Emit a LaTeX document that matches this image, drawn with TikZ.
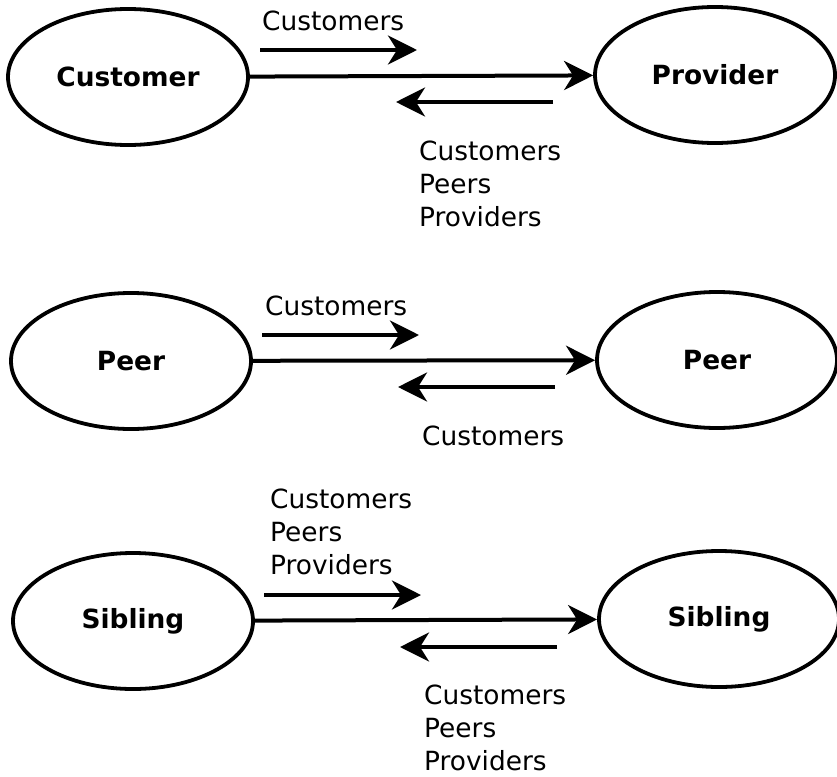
\documentclass[tikz,border=0pt]{standalone}
\usepackage{fontspec}
\setmainfont{DejaVu Sans}
\usetikzlibrary{arrows.meta,shapes.geometric}

\begin{document}
\begin{tikzpicture}[x=1pt, y=-1pt,
    party/.style={ellipse, draw, line width=3.8pt, minimum width=240pt, minimum height=136pt, inner sep=0pt, font=\fontsize{26.4}{33}\selectfont\bfseries},
    route/.style={line width=4pt, -{Stealth[length=29pt, width=29pt, inset=9pt]}},
    lbl/.style={inner sep=0pt, align=left, font=\fontsize{26.4}{33}\selectfont}]
    \useasboundingbox (0,0) rectangle (837,776);

    % customer -> provider
    \node[party] (cust) at (128,77) {Customer};
    \node[party] (prov) at (715,75) {Provider};
    \draw[route] (cust) -- (prov);
    \coordinate (cu1) at (260,50); \coordinate (cu2) at (417,50);
    \coordinate (cd1) at (553,102); \coordinate (cd2) at (396,102);
    \draw[route] (cu1) -- (cu2);
    \draw[route] (cd1) -- (cd2);
    \node[lbl, anchor=base west] (cutxt) at (262,31) {Customers};
    \node[lbl, anchor=north west] (cdtxt) at (419,141) {Customers\\Peers\\Providers};

    % peer -> peer
    \node[party] (peerl) at (131,361) {Peer};
    \node[party] (peerr) at (717,360) {Peer};
    \draw[route] (peerl) -- (peerr);
    \coordinate (pu1) at (262,335); \coordinate (pu2) at (419,335);
    \coordinate (pd1) at (555,387); \coordinate (pd2) at (398,387);
    \draw[route] (pu1) -- (pu2);
    \draw[route] (pd1) -- (pd2);
    \node[lbl, anchor=base west] (putxt) at (265,315) {Customers};
    \node[lbl, anchor=base west] (pdtxt) at (422,445) {Customers};

    % sibling -> sibling
    \node[party] (sibl) at (133,621) {Sibling};
    \node[party] (sibr) at (719,619) {Sibling};
    \draw[route] (sibl) -- (sibr);
    \coordinate (su1) at (264,595); \coordinate (su2) at (421,595);
    \coordinate (sd1) at (557,647); \coordinate (sd2) at (400,647);
    \draw[route] (su1) -- (su2);
    \draw[route] (sd1) -- (sd2);
    \node[lbl, anchor=north west] (sutxt) at (270,489) {Customers\\Peers\\Providers};
    \node[lbl, anchor=north west] (sdtxt) at (424,685) {Customers\\Peers\\Providers};
\end{tikzpicture}
\end{document}
